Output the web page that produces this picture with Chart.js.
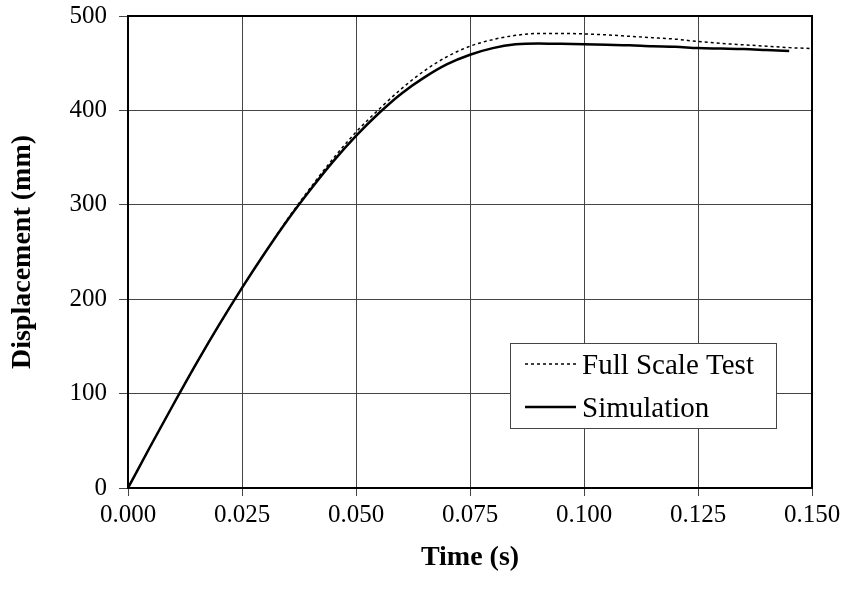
<!DOCTYPE html>
<html>
<head>
<meta charset="utf-8">
<script src="https://cdn.jsdelivr.net/npm/chart.js@4/dist/chart.umd.min.js"></script>
<style>
  html, body { margin: 0; padding: 0; background: #fff; }
  #wrap { width: 845px; height: 597px; }
</style>
</head>
<body>
<div id="wrap"><canvas id="dispChart"></canvas></div>
<script>
// 時間 (s)
const timeSim = [0, 0.005, 0.010, 0.015, 0.020, 0.025, 0.030, 0.035, 0.040, 0.045, 0.050, 0.055, 0.060, 0.065, 0.070, 0.075, 0.080, 0.085, 0.090, 0.095, 0.100, 0.105, 0.110, 0.115, 0.120, 0.125, 0.130, 0.135, 0.140, 0.145];
const dispSim = [0, 45, 89, 132, 173, 212, 249, 284, 316, 346, 373, 397, 418, 435, 449, 459, 466, 470, 471, 470.5, 470, 469.5, 469, 468, 467.5, 466, 465.5, 465, 464, 463];

const timeTest = [0, 0.005, 0.010, 0.015, 0.020, 0.025, 0.030, 0.035, 0.040, 0.045, 0.050, 0.055, 0.060, 0.065, 0.070, 0.075, 0.080, 0.085, 0.090, 0.095, 0.100, 0.105, 0.110, 0.115, 0.120, 0.125, 0.130, 0.135, 0.140, 0.145, 0.150];
const dispTest = [0, 45, 89, 132, 173, 212, 249, 285, 318, 349, 377, 401, 423, 442, 457, 468, 475, 479.5, 481.5, 481.5, 481, 480, 478.5, 477, 475.5, 473, 471, 469.5, 468, 466.5, 465.5];

const xTicks = [0, 0.025, 0.05, 0.075, 0.1, 0.125, 0.15];
const yTicks = [0, 100, 200, 300, 400, 500];

const legendItems = ['Full Scale Test', 'Simulation'];

const FONT = '"Liberation Serif", "Times New Roman", serif';

const toPts = (xs, ys) => xs.map((x, i) => ({ x: x, y: ys[i] }));

// 枠線と凡例
const framePlugin = {
    id: 'frame',
    afterDraw(chart) {
        const { ctx, chartArea: a } = chart;
        ctx.save();
        ctx.strokeStyle = '#000';
        ctx.lineWidth = 2;
        ctx.strokeRect(a.left, a.top, a.right - a.left, a.bottom - a.top);

        // 凡例ボックス
        const bx = 510, by = 343, bw = 266, bh = 85;
        ctx.fillStyle = '#fff';
        ctx.fillRect(bx, by, bw, bh);
        ctx.strokeStyle = '#444';
        ctx.lineWidth = 1;
        ctx.strokeRect(bx + 0.5, by + 0.5, bw, bh);

        ctx.strokeStyle = '#000';
        ctx.lineWidth = 1.5;
        ctx.setLineDash([3, 3]);
        ctx.beginPath(); ctx.moveTo(525, 364); ctx.lineTo(577, 364); ctx.stroke();
        ctx.setLineDash([]);
        ctx.lineWidth = 2.5;
        ctx.beginPath(); ctx.moveTo(525, 407); ctx.lineTo(576, 407); ctx.stroke();

        ctx.fillStyle = '#000';
        ctx.font = '29px ' + FONT;
        ctx.textBaseline = 'middle';
        ctx.textAlign = 'left';
        ctx.fillText(legendItems[0], 582, 366);
        ctx.fillText(legendItems[1], 582, 409);
        ctx.restore();
    }
};

new Chart(document.getElementById('dispChart'), {
    type: 'line',
    data: {
        datasets: [
            { label: legendItems[0], data: toPts(timeTest, dispTest), borderColor: '#000', borderWidth: 1.5, borderDash: [3, 3], pointRadius: 0, tension: 0.4, cubicInterpolationMode: 'monotone', order: 2 },
            { label: legendItems[1], data: toPts(timeSim, dispSim), borderColor: '#000', borderWidth: 2.5, pointRadius: 0, tension: 0.4, cubicInterpolationMode: 'monotone', order: 1 }
        ]
    },
    options: {
        responsive: true,
        maintainAspectRatio: false,
        animation: false,
        layout: { padding: { left: 0, top: 16, right: 33, bottom: 0 } },
        plugins: { legend: { display: false }, tooltip: { enabled: false } },
        scales: {
            x: {
                type: 'linear', min: 0, max: 0.15,
                afterBuildTicks: s => { s.ticks = xTicks.map(v => ({ value: v })); },
                afterFit: s => { s.height = 109; s.paddingLeft = 0; s.paddingRight = 0; },
                ticks: { color: '#000', font: { family: FONT, size: 25 }, padding: 4, maxRotation: 0, callback: v => v.toFixed(3) },
                grid: { color: '#444', lineWidth: 1, tickLength: 8, tickColor: '#444' },
                border: { color: '#000', width: 2 },
                title: { display: true, text: 'Time (s)', color: '#000', font: { family: FONT, size: 28, weight: 'bold' }, padding: { top: 0, bottom: 22 } }
            },
            y: {
                min: 0, max: 500,
                afterBuildTicks: s => { s.ticks = yTicks.map(v => ({ value: v })); },
                afterFit: s => { s.width = 128; s.paddingTop = 0; s.paddingBottom = 0; },
                ticks: { color: '#000', font: { family: FONT, size: 25 }, padding: 12 },
                grid: { color: '#444', lineWidth: 1, tickLength: 9, tickColor: '#444' },
                border: { color: '#000', width: 2 },
                title: { display: true, text: 'Displacement (mm)', color: '#000', font: { family: FONT, size: 28, weight: 'bold' }, padding: { top: 6, bottom: 0 } }
            }
        }
    },
    plugins: [framePlugin]
});
</script>
</body>
</html>
